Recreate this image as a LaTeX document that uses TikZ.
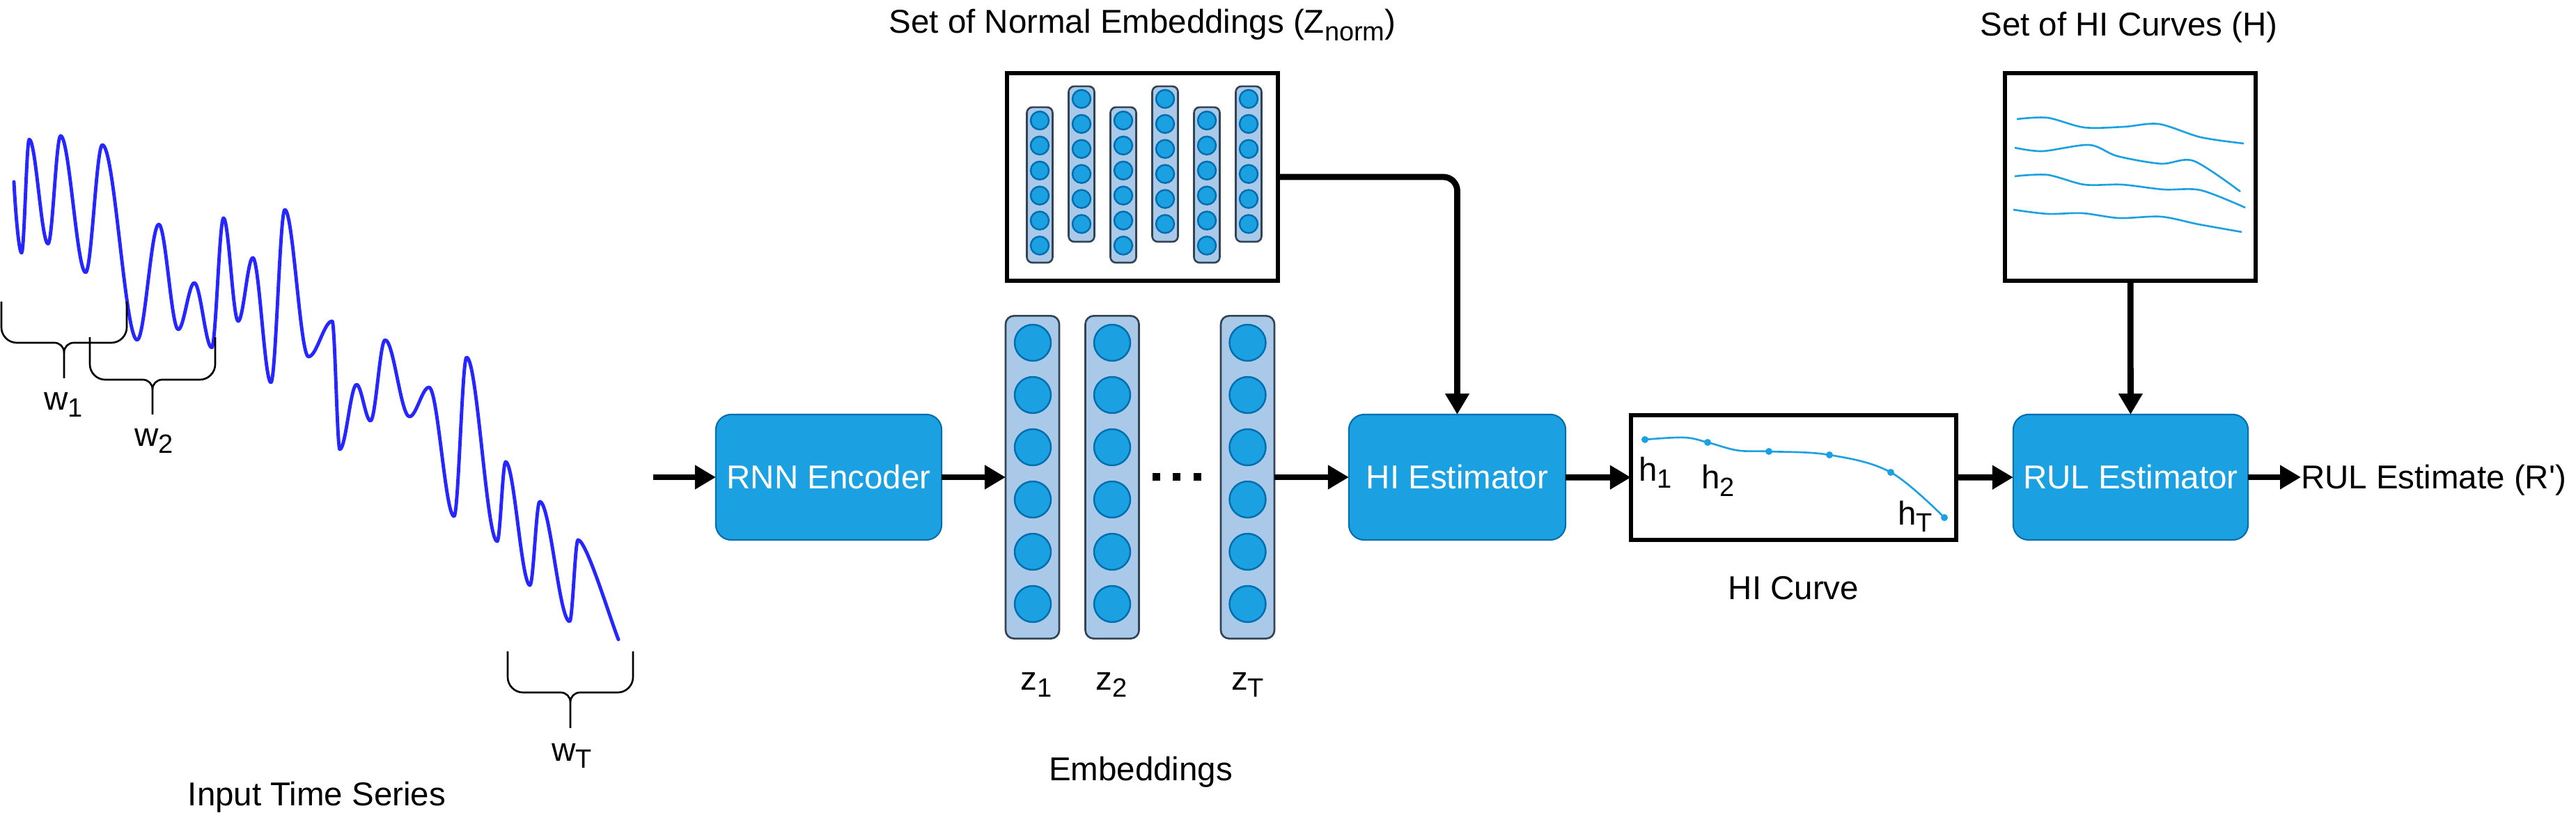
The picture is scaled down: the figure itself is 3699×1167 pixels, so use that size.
\documentclass[tikz,border=0pt]{standalone}
\usepackage{fontspec}
\setmainfont{Liberation Sans}
\usetikzlibrary{arrows.meta}
\definecolor{boxblue}{HTML}{1BA1E2}
\definecolor{boxedge}{HTML}{006EAF}
\definecolor{colfill}{RGB}{170,201,232}
\definecolor{coledge}{HTML}{314354}
\definecolor{tsblue}{RGB}{38,38,255}
\newcommand\lsub[1]{\raisebox{-0.23em}{\fontsize{10.8}{12}\selectfont #1}}
\newcommand\wbrace[5]{%
 \pgfmathsetmacro\wbc{(#1+#2)/2}%
 \draw[bracesty] (#1,#3) -- (#1,#4-22) .. controls (#1,#4-10) and (#1+10,#4) .. (#1+22,#4) -- (\wbc-14,#4) .. controls (\wbc-6,#4) and (\wbc,#4+6) .. (\wbc,#4+14) -- (\wbc,#5);
 \draw[bracesty] (#2,#3) -- (#2,#4-22) .. controls (#2,#4-10) and (#2-10,#4) .. (#2-22,#4) -- (\wbc+14,#4) .. controls (\wbc+6,#4) and (\wbc,#4+6) .. (\wbc,#4+14);
}
\begin{document}
\begin{tikzpicture}[x=0.01cm,y=-0.01cm,
  every node/.style={inner sep=0pt, outer sep=0pt, font=\fontsize{13.5}{16}\selectfont},
  bluebox/.style={draw=boxedge, fill=boxblue, line width=0.6pt, rounded corners=0.22cm, text=white, minimum height=1.80cm},
  blackbox/.style={draw=black, fill=white, line width=1.7pt},
  bigcol/.style={draw=coledge, fill=colfill, line width=0.75pt, rounded corners=0.12cm, minimum width=0.77cm, minimum height=4.63cm},
  smallcol/.style={draw=coledge, fill=colfill, line width=0.75pt, rounded corners=0.08cm, minimum width=0.37cm, minimum height=2.23cm},
  neuron/.style={draw=boxedge, fill=boxblue, line width=0.7pt},
  arr/.style={line width=2.5pt, -{Triangle[length=0.30cm,width=0.33cm]}},
  tsline/.style={draw=tsblue, line width=1.4pt, line join=round, line cap=round},
  hicurve/.style={draw=boxblue, line width=0.75pt},
  bracesty/.style={draw=black, line width=0.75pt},
]
\useasboundingbox[fill=white] (0,0) rectangle (3699,1167);

% ---------- input time series ----------
\draw[tsline] (20,261) .. controls +(2,40) and +(-4,0) .. (31,363)
 .. controls +(3.9,0) and +(-3.9,0) .. (42,200)
 .. controls +(9.5,0) and +(-9.5,0) .. (69,350)
 .. controls +(6.3,0) and +(-6.3,0) .. (87,195)
 .. controls +(12.6,0) and +(-12.6,0) .. (123,391)
 .. controls +(8.4,0) and +(-8.4,0) .. (147,208)
 .. controls +(17.5,0) and +(-17.5,0) .. (197,488)
 .. controls +(10.9,0) and +(-10.9,0) .. (228,322)
 .. controls +(9.8,0) and +(-9.8,0) .. (256,473)
 .. controls +(8,0) and +(-8,0) .. (279,406)
 .. controls +(8.8,0) and +(-8.8,0) .. (304,499)
 .. controls +(6,0) and +(-6,0) .. (321,313)
 .. controls +(7.4,0) and +(-7.4,0) .. (342,461)
 .. controls +(7.4,0) and +(-7.4,0) .. (363,370)
 .. controls +(9.1,0) and +(-9.1,0) .. (389,549)
 .. controls +(7,0) and +(-7,0) .. (409,301)
 .. controls +(11.9,0) and +(-11.9,0) .. (443,512)
 .. controls +(11.9,0) and +(-11.9,0) .. (477,461)
 .. controls +(3.9,0) and +(-3.9,0) .. (488,645)
 .. controls +(8.4,0) and +(-8.4,0) .. (512,552)
 .. controls +(7,0) and +(-7,0) .. (532,604)
 .. controls +(7.4,0) and +(-7.4,0) .. (553,488)
 .. controls +(12.3,0) and +(-12.3,0) .. (588,598)
 .. controls +(9.8,0) and +(-9.8,0) .. (616,556)
 .. controls +(12.6,0) and +(-12.6,0) .. (652,741)
 .. controls +(6.3,0) and +(-6.3,0) .. (670,513)
 .. controls +(15.4,0) and +(-15.4,0) .. (714,777)
 .. controls +(4.2,0) and +(-4.2,0) .. (726,663)
 .. controls +(12.3,0) and +(-12.3,0) .. (761,840)
 .. controls +(4.9,0) and +(-4.9,0) .. (775,720)
 .. controls +(15,0) and +(-15,0) .. (818,892)
 .. controls +(4.2,0) and +(-4.2,0) .. (830,775)
 .. controls +(12,0) and +(-12,-30) .. (888,918);

% braces and window labels
\wbrace{2}{182}{433}{492}{543}
\wbrace{129}{309}{484}{545}{595}
\wbrace{729}{909}{935}{994}{1045}
\node[anchor=base west] (lw1) at (63,588) {w\lsub{1}};
\node[anchor=base west] (lw2) at (193,640) {w\lsub{2}};
\node[anchor=base west] (lwT) at (792,1092) {w\lsub{T}};
\node[anchor=base] (tin) at (455,1156) {Input Time Series};

% ---------- blue processing boxes ----------
\node[bluebox, minimum width=3.24cm] (rnn) at (1190,685) {RNN Encoder};
\node[bluebox, minimum width=3.11cm] (hiest) at (2092.5,685) {HI Estimator};
\node[bluebox, minimum width=3.37cm] (rul) at (3059.5,685) {RUL Estimator};

% ---------- embeddings ----------
\node[bigcol] (z1) at (1482.5,685) {};
\node[bigcol] (z2) at (1597,685) {};
\node[bigcol] (zT) at (1791.5,685) {};
\foreach \x in {1483,1597,1791.5}{
  \foreach \yy in {492,567,642,717,792,867}{
    \draw[neuron] (\x,\yy) circle[radius=26];
  }
}
\fill (1654.5,679) rectangle +(11,11);
\fill (1684,679) rectangle +(11,11);
\fill (1713.5,679) rectangle +(11,11);
\node[anchor=base] (lz1) at (1488,990) {z\lsub{1}};
\node[anchor=base] (lz2) at (1596,990) {z\lsub{2}};
\node[anchor=base] (lzT) at (1791.5,990) {z\lsub{T}};
\node[anchor=base] (temb) at (1638,1120) {Embeddings};

% ---------- set of normal embeddings ----------
\node[blackbox, minimum width=3.89cm, minimum height=2.98cm] (nbox) at (1640.5,254) {};
\foreach \i/\x/\yc/\ytop in {1/1493/265.5/173, 2/1553/235.5/142, 3/1613/265.5/173, 4/1673/235.5/142, 5/1733/265.5/173, 6/1793/235.5/142}{
  \node[smallcol] (c\i) at (\x,\yc) {};
  \foreach \k in {0,...,5}{
    \draw[neuron] (\x,\ytop+35.9*\k) circle[radius=13];
  }
}
\node[anchor=base] (tnorm) at (1640.5,48) {Set of Normal Embeddings (Z\lsub{norm})};

% ---------- HI curve ----------
\node[blackbox, minimum width=4.67cm, minimum height=1.79cm] (hic) at (2575.5,685.5) {};
\draw[hicurve] plot[smooth, tension=0.6] coordinates {(2362,631) (2418,628) (2452,635) (2495,646.5) (2540,648) (2627,653) (2715,678) (2792,743)};
\foreach \x/\yy in {2362/631, 2452/635, 2540/648, 2627/653, 2715/678, 2792/743}{
  \fill[boxblue] (\x,\yy) circle[radius=5];
}
\node[anchor=base west] (lh1) at (2353,690) {h\lsub{1}};
\node[anchor=base west] (lh2) at (2443,702) {h\lsub{2}};
\node[anchor=base west] (lhT) at (2725,753) {h\lsub{T}};
\node[anchor=base] (thic) at (2575.5,860) {HI Curve};

% ---------- set of HI curves ----------
\node[blackbox, minimum width=3.60cm, minimum height=2.98cm] (hbox) at (3059,254) {};
\draw[hicurve] plot[smooth, tension=0.5] coordinates {(2896,171) (2940,169) (2993,183) (3050,182) (3100,178) (3160,197) (3222,206)};
\draw[hicurve] plot[smooth, tension=0.5] coordinates {(2893,212) (2933,217) (3000,208) (3040,224) (3103,235) (3150,231) (3217,275)};
\draw[hicurve] plot[smooth, tension=0.5] coordinates {(2893,253) (2940,251) (2993,265) (3047,265) (3107,272) (3160,273) (3224,298)};
\draw[hicurve] plot[smooth, tension=0.5] coordinates {(2891,301) (2940,307) (2990,306) (3043,313) (3103,311) (3157,322) (3219,333)};
\node[anchor=base] (thi) at (3057,52) {Set of HI Curves (H)};

% ---------- output ----------
\node[anchor=base west] (rulout) at (3304,702) {RUL Estimate (R\textquotesingle)};

% ---------- connectors ----------
\coordinate (tsin) at (938,685);
\draw[arr] (tsin) -- (rnn);
\draw[arr] (rnn) -- (z1);
\draw[arr] (zT) -- (hiest);
\draw[arr] (hiest) -- (hic);
\draw[arr] (hic) -- (rul);
\draw[arr] (rul) -- (rul -| rulout.west);
\draw[arr, rounded corners=0.2cm] (nbox.east) -| (hiest.north);
\draw[arr] (hbox) -- (rul);
\end{tikzpicture}
\end{document}
